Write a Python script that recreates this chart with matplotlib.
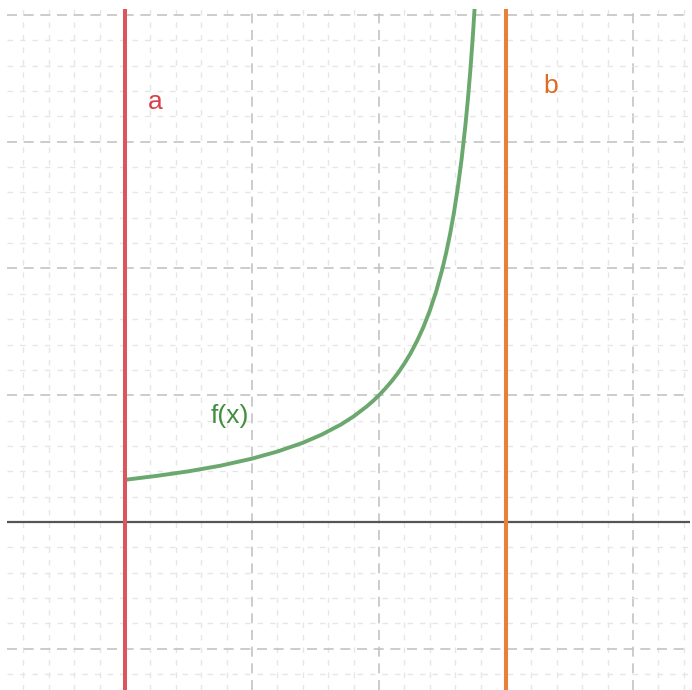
import matplotlib
matplotlib.use("Agg")
import matplotlib.pyplot as plt
import numpy as np

# vertical bounds a, b and the curve f(x)
a_pos = 1.0
b_pos = 4.0
fx_x = [1.0, 1.25, 1.5, 1.75, 2.0, 2.2, 2.4, 2.55, 2.7, 2.8, 2.9, 2.95,
        3.0, 3.05, 3.1, 3.15, 3.2, 3.25, 3.3, 3.35, 3.4, 3.45, 3.5, 3.53,
        3.56, 3.59, 3.62, 3.65, 3.68, 3.7, 3.72, 3.74, 3.76, 3.78]
fx_y = [0.333, 0.364, 0.4, 0.444, 0.5, 0.556, 0.625, 0.69, 0.769, 0.833,
        0.909, 0.952, 1.0, 1.053, 1.111, 1.176, 1.25, 1.333, 1.429, 1.538,
        1.667, 1.818, 2.0, 2.128, 2.273, 2.439, 2.632, 2.857, 3.125, 3.333,
        3.571, 3.846, 4.167, 4.545]

plt.rcParams["font.family"] = ["Liberation Sans", "DejaVu Sans"]

W, H = 692, 690
fig = plt.figure(figsize=(W / 100, H / 100), dpi=100)
x0, x1 = 7, 690     # axes extent in pixels
y0, y1 = 9, 690
ax = fig.add_axes([x0 / W, 1 - y1 / H, (x1 - x0) / W, (y1 - y0) / H])
ax.set_xlim(0.071, 5.449)
ax.set_ylim(-1.325, 4.047)
for s in ax.spines.values():
    s.set_visible(False)
ax.set_xticks([])
ax.set_yticks([])

# grid: minor every 0.2, major every 1
for v in np.arange(0.2, 5.5, 0.2):
    major = abs(v - round(v)) < 1e-6
    ax.axvline(v, color="#c4c4c4" if major else "#e6e6e6",
               lw=1.2 if major else 1.0, dashes=(6, 4) if major else (4, 5), zorder=1)
for v in np.arange(-1.2, 4.05, 0.2):
    major = abs(v - round(v)) < 1e-6
    if abs(v) < 1e-6:
        continue
    ax.axhline(v, color="#c4c4c4" if major else "#e6e6e6",
               lw=1.2 if major else 1.0, dashes=(6, 4) if major else (4, 5), zorder=1)

# x-axis
ax.axhline(0, color="#555555", lw=1.6, zorder=2)

ax.plot(fx_x, fx_y, color="#6aa86e", lw=2.8, solid_capstyle="round",
        solid_joinstyle="round", zorder=3)
ax.axvline(a_pos, color="#d9575c", lw=2.9, zorder=4)
ax.axvline(b_pos, color="#e8803a", lw=2.9, zorder=4)

ax.text(1.236, 3.31, "a", color="#d9404a", fontsize=19, ha="center", va="center")
ax.text(4.354, 3.44, "b", color="#e06a20", fontsize=19, ha="center", va="center")
ax.text(1.827, 0.836, "f(x)", color="#3f8f3f", fontsize=19, ha="center", va="center")

fig.savefig("out.png", dpi=100)
